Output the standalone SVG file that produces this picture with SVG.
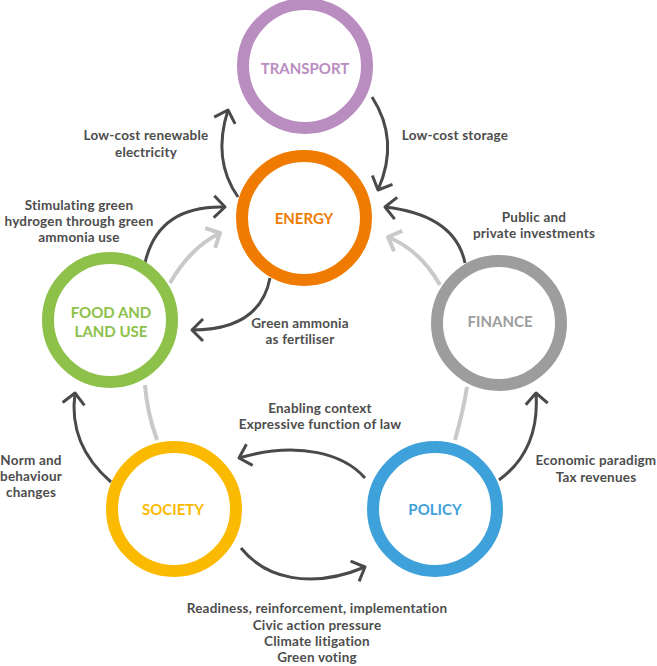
<svg xmlns="http://www.w3.org/2000/svg" width="657" height="666" viewBox="0 0 657 666">
<style>
.ring{fill:#fff;stroke-width:12}
.nl{font-family:Lato,"Liberation Sans",sans-serif;font-weight:700;font-size:15px;text-anchor:middle}
.el{font-family:Lato,"Liberation Sans",sans-serif;font-weight:700;font-size:13.5px;letter-spacing:0.2px;fill:#4D4D4D;text-anchor:middle}
.dk{fill:none;stroke:#4A4A4A;stroke-width:3;marker-end:url(#ad)}
.lt{fill:none;stroke:#C9C9C9;stroke-width:4}
.lta{marker-end:url(#al)}
</style>
<defs>
<marker id="ad" markerUnits="userSpaceOnUse" markerWidth="24" markerHeight="24" refX="12" refY="11" orient="auto" overflow="visible">
<path d="M1,0 L12,11 L1,22" fill="none" stroke="#4A4A4A" stroke-width="3" stroke-linejoin="round"/>
</marker>
<marker id="al" markerUnits="userSpaceOnUse" markerWidth="24" markerHeight="24" refX="12" refY="11" orient="auto" overflow="visible">
<path d="M1,0 L12,11 L1,22" fill="none" stroke="#C9C9C9" stroke-width="4" stroke-linejoin="round"/>
</marker>
</defs>
<g id="connectors">
<path class="lt" d="M157,440 Q147,412 145,385"/>
<path class="lt" d="M455,440 Q463,412 467,387"/>
<path class="lt lta" d="M170,283 Q190,248 220,233"/>
<path class="lt lta" d="M440,285 Q420,250 388,237"/>
<path class="dk" d="M238,197 Q212,160 228,110"/>
<path class="dk" d="M372,97 Q400,140 378,190"/>
<path class="dk" d="M465,263 Q455,215 385,207"/>
<path class="dk" d="M145,263 Q158,205 225,207"/>
<path class="dk" d="M270,278 Q260,330 192,330"/>
<path class="dk" d="M111,482 Q68,445 75,393"/>
<path class="dk" d="M499,480 Q540,450 536,393"/>
<path class="dk" d="M365,478 C345,455 300,440 239,458"/>
<path class="dk" d="M241,548 C265,578 310,590 365,567"/>
</g>
<g id="transport"><circle class="ring" cx="305" cy="66" r="62" stroke="#BA8DC1"/><text class="nl" x="305" y="74" fill="#BA8DC1">TRANSPORT</text></g>
<g id="energy"><circle class="ring" cx="304" cy="218" r="62" stroke="#EF7B00"/><text class="nl" x="304" y="224" fill="#EF7B00">ENERGY</text></g>
<g id="food"><circle class="ring" cx="110" cy="320" r="62" stroke="#8DC14A"/><text class="nl" x="111" y="318" fill="#8DC14A">FOOD AND</text><text class="nl" x="111" y="337" fill="#8DC14A">LAND USE</text></g>
<g id="finance"><circle class="ring" cx="499" cy="323" r="62" stroke="#9D9D9D"/><text class="nl" x="500" y="327" fill="#9D9D9D">FINANCE</text></g>
<g id="society"><circle class="ring" cx="174" cy="509" r="62" stroke="#FBBA00"/><text class="nl" x="173" y="515" fill="#FBBA00">SOCIETY</text></g>
<g id="policy"><circle class="ring" cx="435" cy="509" r="62" stroke="#3FA1DA"/><text class="nl" x="435" y="515" fill="#3FA1DA">POLICY</text></g>
<g id="labels">
<text class="el" x="146" y="140">Low-cost renewable</text>
<text class="el" x="146" y="157">electricity</text>
<text class="el" x="455" y="140">Low-cost storage</text>
<text class="el" x="534" y="222">Public and</text>
<text class="el" x="534" y="238">private investments</text>
<text class="el" x="79" y="210">Stimulating green</text>
<text class="el" x="79" y="226">hydrogen through green</text>
<text class="el" x="79" y="242">ammonia use</text>
<text class="el" x="300" y="328">Green ammonia</text>
<text class="el" x="300" y="344">as fertiliser</text>
<text class="el" x="320" y="413">Enabling context</text>
<text class="el" x="320" y="429">Expressive function of law</text>
<text class="el" x="31" y="465">Norm and</text>
<text class="el" x="31" y="481">behaviour</text>
<text class="el" x="31" y="497">changes</text>
<text class="el" x="596" y="465">Economic paradigm</text>
<text class="el" x="596" y="482">Tax revenues</text>
<text class="el" x="317" y="613">Readiness, reinforcement, implementation</text>
<text class="el" x="317" y="630">Civic action pressure</text>
<text class="el" x="317" y="646">Climate litigation</text>
<text class="el" x="317" y="662">Green voting</text>
</g>
</svg>
